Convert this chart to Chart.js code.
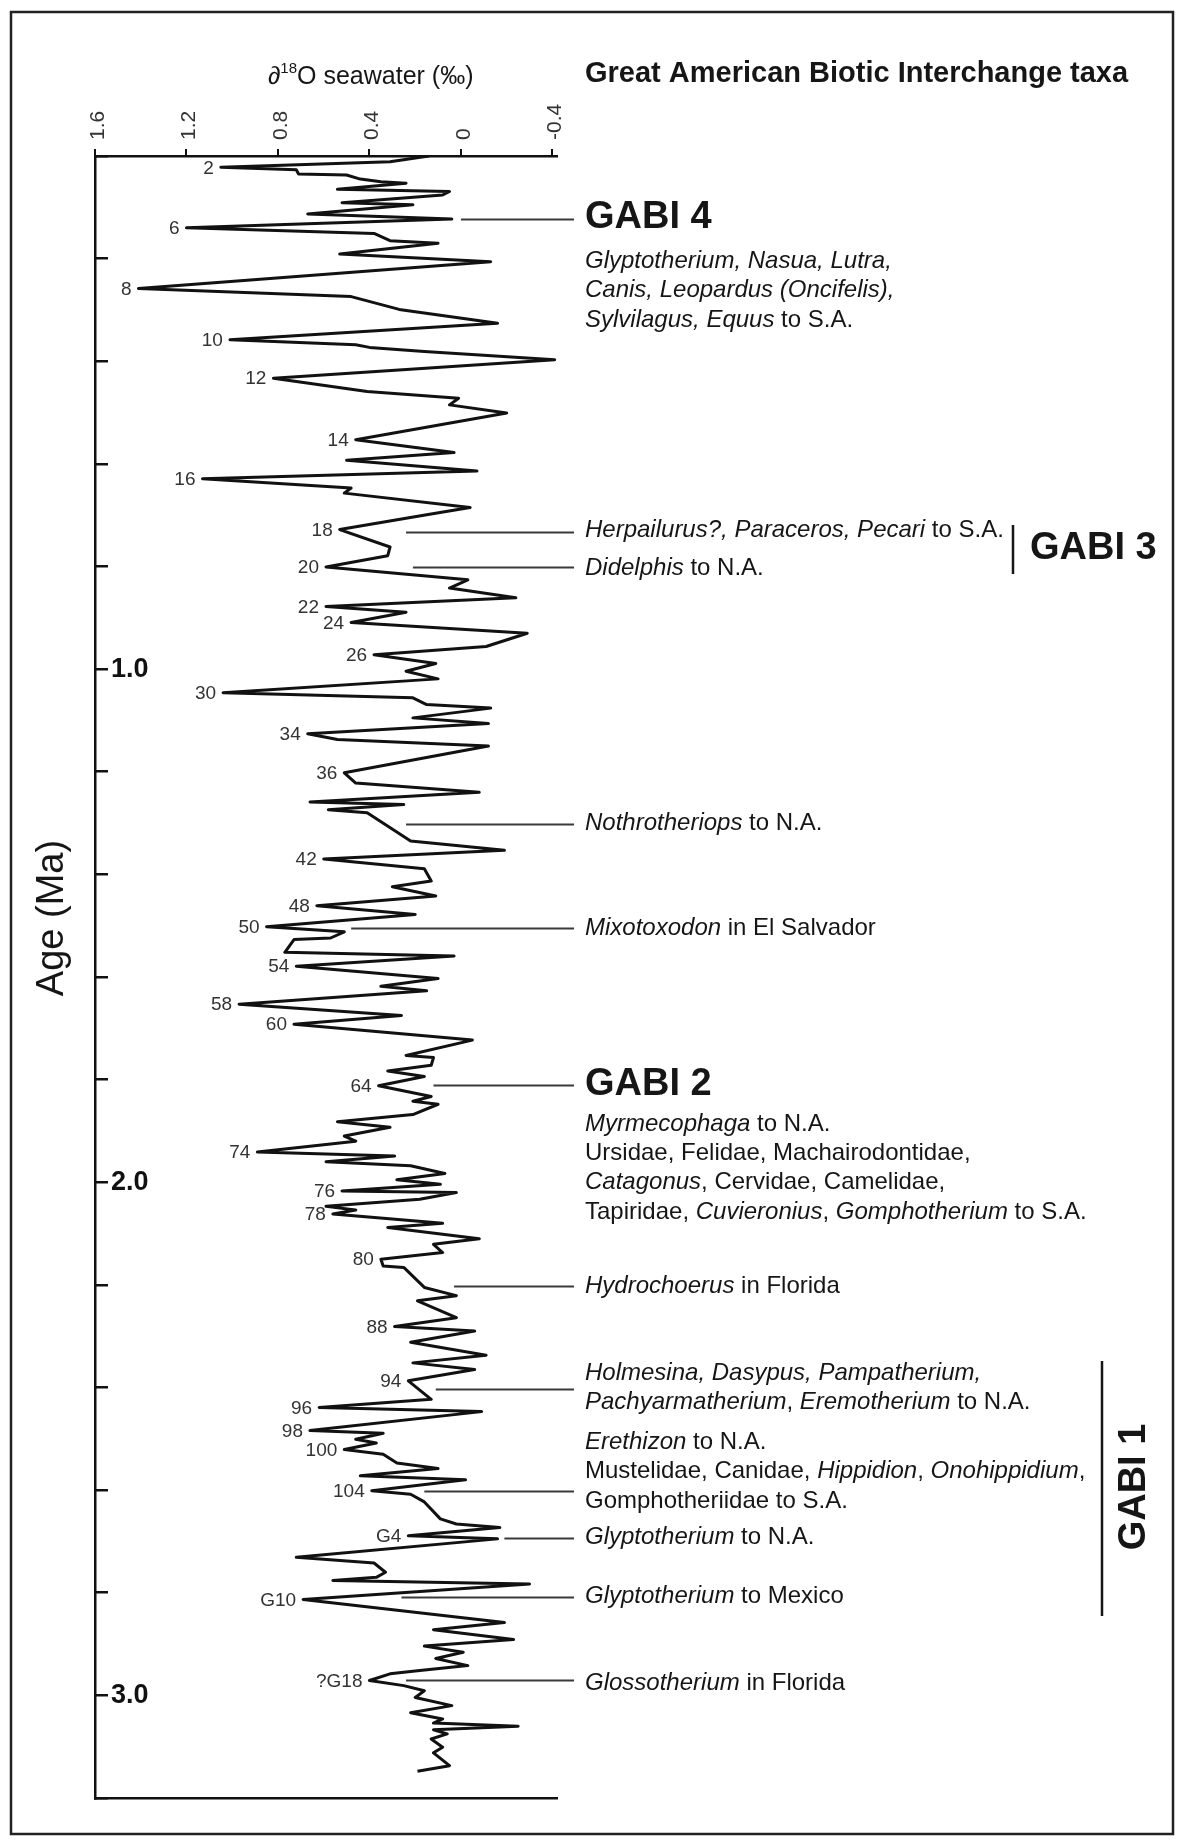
<!DOCTYPE html>
<html>
<head>
<meta charset="utf-8">
<title>GABI and seawater oxygen isotopes</title>
<script src="https://cdn.jsdelivr.net/npm/chart.js@4.4.1/dist/chart.umd.min.js"></script>
<style>
	body { margin: 0; background: #fff; }
	canvas { display: block; }
</style>
</head>
<body>
<canvas id="gabi-chart" width="1180" height="1843"></canvas>
<script>
// age of each sample (Ma)
const ageMa = [
	0.000, 0.011, 0.022, 0.027, 0.035, 0.037, 0.045, 0.050, 0.053, 0.065,
	0.069, 0.076, 0.091, 0.095, 0.113, 0.123, 0.140, 0.151, 0.165, 0.170,
	0.191, 0.206, 0.258, 0.274, 0.299, 0.326, 0.358, 0.368, 0.373, 0.381,
	0.397, 0.433, 0.459, 0.472, 0.485, 0.501, 0.553, 0.578, 0.593, 0.614,
	0.629, 0.647, 0.657, 0.685, 0.699, 0.728, 0.762, 0.779, 0.801, 0.826,
	0.842, 0.861, 0.878, 0.889, 0.909, 0.930, 0.956, 0.972, 0.989, 1.004,
	1.019, 1.046, 1.056, 1.069, 1.076, 1.095, 1.106, 1.126, 1.137, 1.150,
	1.202, 1.222, 1.240, 1.259, 1.264, 1.274, 1.280, 1.335, 1.353, 1.370,
	1.389, 1.413, 1.424, 1.442, 1.461, 1.478, 1.502, 1.512, 1.524, 1.527,
	1.552, 1.559, 1.579, 1.603, 1.618, 1.627, 1.653, 1.675, 1.692, 1.723,
	1.753, 1.757, 1.772, 1.783, 1.794, 1.812, 1.833, 1.842, 1.848, 1.868,
	1.882, 1.893, 1.910, 1.920, 1.941, 1.949, 1.960, 1.968, 1.983, 1.995,
	2.004, 2.017, 2.020, 2.033, 2.047, 2.054, 2.062, 2.080, 2.088, 2.110,
	2.121, 2.137, 2.150, 2.163, 2.166, 2.205, 2.221, 2.231, 2.264, 2.281,
	2.290, 2.312, 2.337, 2.352, 2.365, 2.387, 2.423, 2.439, 2.447, 2.484,
	2.489, 2.501, 2.508, 2.521, 2.530, 2.547, 2.558, 2.572, 2.580, 2.601,
	2.608, 2.623, 2.656, 2.666, 2.673, 2.689, 2.695, 2.731, 2.742, 2.760,
	2.770, 2.776, 2.783, 2.813, 2.858, 2.872, 2.891, 2.904, 2.916, 2.928,
	2.942, 2.952, 2.958, 2.971, 2.981, 2.991, 3.004, 3.020, 3.034, 3.046,
	3.054, 3.060, 3.067, 3.075, 3.085, 3.101, 3.112, 3.137, 3.148,
]
// d18O seawater (permil) for each sample
const d18O = [
	0.14, 0.31, 1.05, 0.72, 0.71, 0.50, 0.44, 0.35, 0.24, 0.54,
	0.05, 0.08, 0.52, 0.21, 0.67, 0.04, 1.20, 0.38, 0.31, 0.10,
	0.53, -0.13, 1.41, 0.48, 0.27, -0.16, 1.01, 0.46, 0.40, 0.16,
	-0.41, 0.82, 0.41, 0.01, 0.05, -0.20, 0.46, 0.03, 0.50, -0.07,
	1.13, 0.48, 0.51, -0.04, 0.15, 0.53, 0.31, 0.32, 0.59, -0.03,
	0.05, -0.24, 0.59, 0.24, 0.48, -0.29, -0.11, 0.38, 0.11, 0.24,
	0.10, 1.04, 0.21, 0.15, -0.13, 0.21, -0.12, 0.67, 0.54, -0.12,
	0.51, 0.46, -0.08, 0.66, 0.25, 0.58, 0.41, 0.22, -0.19, 0.60,
	0.16, 0.13, 0.30, 0.11, 0.63, 0.20, 0.85, 0.51, 0.57, 0.73,
	0.77, 0.03, 0.72, 0.10, 0.35, 0.15, 0.97, 0.26, 0.73, -0.05,
	0.24, 0.12, 0.13, 0.32, 0.16, 0.36, 0.13, 0.21, 0.10, 0.21,
	0.54, 0.31, 0.51, 0.46, 0.89, 0.29, 0.59, 0.22, 0.07, 0.28,
	0.09, 0.52, 0.02, 0.18, 0.59, 0.46, 0.56, 0.08, 0.32, -0.08,
	0.12, 0.08, 0.35, 0.34, 0.25, 0.16, 0.02, 0.19, 0.02, 0.29,
	-0.06, 0.22, -0.11, 0.21, -0.06, 0.23, 0.13, 0.62, -0.09, 0.66,
	0.34, 0.46, 0.37, 0.51, 0.34, 0.28, 0.10, 0.44, -0.02, 0.39,
	0.22, 0.16, 0.09, 0.02, -0.17, 0.23, -0.16, 0.72, 0.38, 0.33,
	0.37, 0.56, -0.30, 0.69, -0.19, 0.12, -0.23, 0.16, -0.01, 0.11,
	-0.03, 0.19, 0.31, 0.40, 0.25, 0.16, 0.20, 0.04, 0.22, 0.08,
	0.12, -0.25, 0.12, 0.06, 0.13, 0.08, 0.12, 0.05, 0.19,
]
const xTickValues = [1.6, 1.2, 0.8, 0.4, 0, -0.4]

// marine isotope stages marked on the glacial peaks
const misLabels = [
	'2', '6', '8', '10', '12', '14', '16', '18', '20', '22',
	'24', '26', '30', '34', '36', '42', '48', '50', '54', '58',
	'60', '64', '74', '76', '78', '80', '88', '94', '96', '98',
	'100', '104', 'G4', 'G10', '?G18',
]
const misAges = [
	0.022, 0.140, 0.258, 0.358, 0.433, 0.553, 0.629, 0.728, 0.801, 0.878,
	0.909, 0.972, 1.046, 1.126, 1.202, 1.370, 1.461, 1.502, 1.579, 1.653,
	1.692, 1.812, 1.941, 2.017, 2.062, 2.150, 2.281, 2.387, 2.439, 2.484,
	2.521, 2.601, 2.689, 2.813, 2.971,
]
const misValues = [
	1.05, 1.20, 1.41, 1.01, 0.82, 0.46, 1.13, 0.53, 0.59, 0.59,
	0.48, 0.38, 1.04, 0.67, 0.51, 0.60, 0.63, 0.85, 0.72, 0.97,
	0.73, 0.36, 0.89, 0.52, 0.56, 0.35, 0.29, 0.23, 0.62, 0.66,
	0.51, 0.39, 0.23, 0.69, 0.40,
]

// dispersal events: age of the pointer line and d18O where it leaves the curve
const eventAges = [0.123, 0.732, 0.801, 1.301, 1.505, 1.811, 2.203, 2.402, 2.601, 2.693, 2.809, 2.971]
const eventStarts = [0.0, 0.24, 0.21, 0.24, 0.48, 0.12, 0.03, 0.11, 0.16, -0.19, 0.26, 0.24]

// taxa text, *...* is italic
const taxaLines = [
	'*Glyptotherium, Nasua, Lutra,*',
	'*Canis, Leopardus (Oncifelis),*',
	'*Sylvilagus, Equus* to S.A.',
	'*Herpailurus?, Paraceros, Pecari* to S.A.',
	'*Didelphis* to N.A.',
	'*Nothrotheriops* to N.A.',
	'*Mixotoxodon* in El Salvador',
	'*Myrmecophaga* to N.A.',
	'Ursidae, Felidae, Machairodontidae,',
	'*Catagonus*, Cervidae, Camelidae,',
	'Tapiridae, *Cuvieronius*, *Gomphotherium* to S.A.',
	'*Hydrochoerus* in Florida',
	'*Holmesina, Dasypus, Pampatherium,*',
	'*Pachyarmatherium*, *Eremotherium* to N.A.',
	'*Erethizon* to N.A.',
	'Mustelidae, Canidae, *Hippidion*, *Onohippidium*,',
	'Gomphotheriidae to S.A.',
	'*Glyptotherium* to N.A.',
	'*Glyptotherium* to Mexico',
	'*Glossotherium* in Florida',
]
const gabiLabels = ['GABI 4', 'GABI 3', 'GABI 2', 'GABI 1']

const FONT = '"Liberation Sans", Arial, sans-serif'
const INK = '#161616'

// layout of the text column
const taxaY = [261, 290, 320, 530, 568, 823, 928, 1124, 1153, 1182, 1212, 1286, 1373, 1402, 1442, 1471, 1501, 1537, 1596, 1683]
const textX = 585
const lineEndX = 574

function drawRich(ctx, line, x, y, size) {
	line.split('*').forEach((part, i) => {
		ctx.font = (i % 2 ? 'italic ' : '') + size + 'px ' + FONT
		ctx.fillText(part, x, y)
		x += ctx.measureText(part).width
	})
}

const gabiPlugin = {
	id: 'gabiText',
	afterDraw(chart) {
		const { ctx } = chart
		const xs = chart.scales.x
		const ys = chart.scales.y
		ctx.save()

		// frame
		ctx.strokeStyle = '#222'
		ctx.lineWidth = 2.5
		ctx.strokeRect(11, 12, 1162, 1822)

		// stage numbers
		ctx.fillStyle = '#333'
		ctx.font = '19px ' + FONT
		ctx.textAlign = 'right'
		ctx.textBaseline = 'middle'
		misLabels.forEach((label, i) => {
			ctx.fillText(label, xs.getPixelForValue(misValues[i]) - 7, ys.getPixelForValue(misAges[i]) + 1)
		})

		// pointer lines
		ctx.strokeStyle = '#3a3a3a'
		ctx.lineWidth = 2
		eventAges.forEach((age, i) => {
			const py = Math.round(ys.getPixelForValue(age)) + 0.5
			ctx.beginPath()
			ctx.moveTo(xs.getPixelForValue(eventStarts[i]), py)
			ctx.lineTo(lineEndX, py)
			ctx.stroke()
		})

		// taxa
		ctx.fillStyle = INK
		ctx.textAlign = 'left'
		taxaLines.forEach((line, i) => drawRich(ctx, line, textX, taxaY[i], 24))

		// GABI headings
		ctx.font = 'bold 38px ' + FONT
		ctx.fillText(gabiLabels[0], textX, 218)
		ctx.fillText(gabiLabels[1], 1030, 549)
		ctx.fillText(gabiLabels[2], textX, 1085)
		ctx.save()
		ctx.translate(1135, 1487)
		ctx.rotate(-Math.PI / 2)
		ctx.textAlign = 'center'
		ctx.fillText(gabiLabels[3], 0, 0)
		ctx.restore()

		// brackets
		ctx.strokeStyle = INK
		ctx.lineWidth = 2.5
		ctx.beginPath()
		ctx.moveTo(1013, 525)
		ctx.lineTo(1013, 574)
		ctx.moveTo(1102, 1361)
		ctx.lineTo(1102, 1616)
		ctx.stroke()

		// header
		ctx.font = 'bold 29px ' + FONT
		ctx.fillText('Great American Biotic Interchange taxa', textX, 74)

		// axis titles
		ctx.font = '25px ' + FONT
		let tx = 268
		ctx.fillText('\u2202', tx, 77)
		tx += ctx.measureText('\u2202').width
		ctx.font = '15px ' + FONT
		ctx.fillText('18', tx, 69)
		tx += ctx.measureText('18').width
		ctx.font = '25px ' + FONT
		ctx.fillText('O seawater (\u2030)', tx, 77)

		ctx.save()
		ctx.translate(53, 918)
		ctx.rotate(-Math.PI / 2)
		ctx.textAlign = 'center'
		ctx.font = '38px ' + FONT
		ctx.fillText('Age (Ma)', 0, 0)
		ctx.restore()

		ctx.restore()
	},
}

const points = ageMa.map((age, i) => ({ x: d18O[i], y: age }))

const chart = new Chart(document.querySelector('#gabi-chart'), {
	type: 'scatter',
	data: {
		datasets: [
			{
				data: points,
				xAxisID: 'x',
				yAxisID: 'y',
				showLine: true,
				borderColor: '#111',
				borderWidth: 3,
				borderJoinStyle: 'round',
				pointRadius: 0,
				tension: 0,
			},
		],
	},
	options: {
		responsive: false,
		animation: false,
		layout: { padding: { left: 95, right: 623, top: 15, bottom: 45 } },
		plugins: { legend: { display: false }, tooltip: { enabled: false } },
		scales: {
			x: {
				type: 'linear',
				position: 'top',
				reverse: true,
				min: -0.42,
				max: 1.6,
				afterBuildTicks: scale => {
					scale.ticks = xTickValues.map(v => ({ value: v }))
				},
				afterFit: scale => {
					scale.height = 141
				},
				ticks: {
					minRotation: 90,
					maxRotation: 90,
					padding: 9,
					labelOffset: 28,
					color: '#333',
					font: { family: FONT, size: 21 },
					callback: v => String(Math.round(v * 10) / 10),
				},
				grid: { drawOnChartArea: false, tickLength: 7, color: '#111', lineWidth: 2 },
				border: { color: '#111', width: 2.5 },
			},
			xb: {
				type: 'linear',
				position: 'bottom',
				reverse: true,
				min: -0.42,
				max: 1.6,
				afterFit: scale => {
					scale.height = 0
				},
				ticks: { display: false },
				grid: { drawOnChartArea: false, drawTicks: false },
				border: { color: '#111', width: 2.5 },
			},
			y: {
				type: 'linear',
				position: 'left',
				reverse: true,
				min: 0,
				max: 3.2,
				afterFit: scale => {
					scale.width = 0
				},
				ticks: {
					stepSize: 0.2,
					mirror: true,
					padding: 16,
					color: '#111',
					font: { family: FONT, size: 27, weight: 'bold' },
					callback: v => (v > 0 && Math.abs(v - Math.round(v)) < 1e-6 ? v.toFixed(1) : ''),
				},
				grid: { drawOnChartArea: false, tickLength: -13, color: '#111', lineWidth: 2.5 },
				border: { color: '#111', width: 2.5 },
			},
		},
	},
	plugins: [gabiPlugin],
})
</script>
</body>
</html>
